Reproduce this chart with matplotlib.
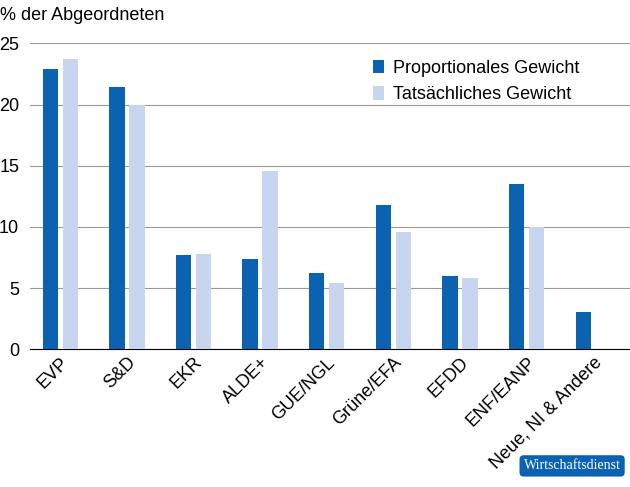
import matplotlib
matplotlib.use("Agg")
import matplotlib.pyplot as plt
import numpy as np

categories = ["EVP", "S&D", "EKR", "ALDE+", "GUE/NGL", "Grüne/EFA", "EFDD", "ENF/EANP", "Neue, NI & Andere"]
proportional = [22.9, 21.4, 7.7, 7.35, 6.2, 11.8, 6.0, 13.5, 3.0]
actual = [23.7, 20.0, 7.8, 14.6, 5.4, 9.6, 5.8, 10.0, 0]

dark = "#0a62b0"
light = "#c7d5ee"

plt.rcParams['font.family'] = ['Liberation Sans', 'DejaVu Sans']
fig = plt.figure(figsize=(6.3, 4.87), dpi=100)
ax = fig.add_axes([0.048, 0.283, 0.952, 0.628])

x = np.arange(len(categories))
w = 0.23
ax.bar(x - 0.15, proportional, w, color=dark, label="Proportionales Gewicht", zorder=3)
ax.bar(x + 0.15, actual, w, color=light, label="Tatsächliches Gewicht", zorder=3)

ax.set_ylim(0, 25)
ax.set_xlim(-0.45, len(categories) - 0.45)
ax.set_yticks([0, 5, 10, 15, 20, 25])
ax.yaxis.grid(True, color="#999999", linewidth=0.8, zorder=0)
for s in ["top", "right", "left"]:
    ax.spines[s].set_visible(False)
ax.spines["bottom"].set_color("black")
ax.tick_params(axis="y", length=0, labelsize=13, pad=8)
ax.tick_params(axis="x", length=0, labelsize=13)
ax.set_xticks(x)
ax.set_xticklabels(categories, rotation=45, ha="right", rotation_mode="anchor")

ax.legend(loc="upper left", bbox_to_anchor=(0.545, 1.0), frameon=False, fontsize=13,
          handlelength=0.6, handleheight=0.8, handletextpad=0.5, labelspacing=0.5)

fig.text(0.0, 0.985, "% der Abgeordneten", fontsize=13, va="top")
fig.text(0.985, 0.03, "Wirtschaftsdienst", fontsize=10, color="white", ha="right", va="bottom",
         family="Liberation Serif",
         bbox=dict(boxstyle="round,pad=0.3", fc=dark, ec="none"))

fig.savefig("out.png", dpi=100)
